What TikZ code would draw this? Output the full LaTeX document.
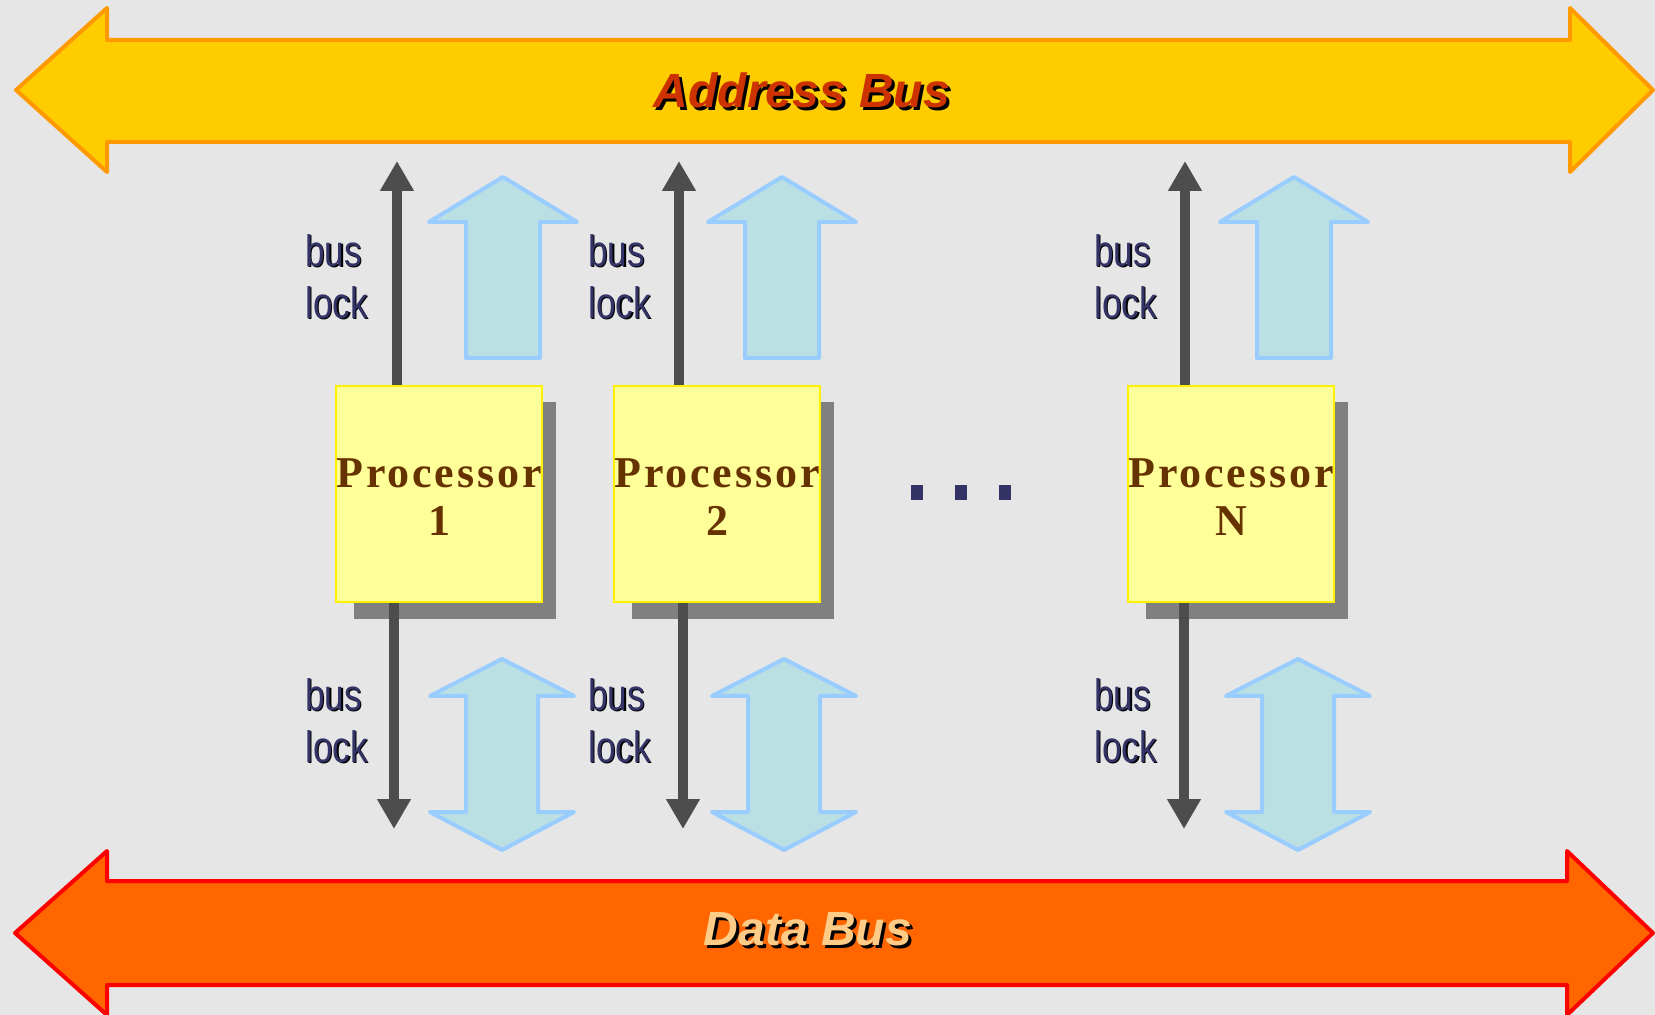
\documentclass[tikz,border=0pt]{standalone}
\usepackage{fontspec}
\setmainfont{Liberation Serif}
\newfontfamily\lockfont[FakeStretch=0.8]{Liberation Sans}
\newfontfamily\busfont{Liberation Sans}
\newfontfamily\procfont[LetterSpace=6.5]{Liberation Serif}
\usepackage{xcolor}
\usepackage{tikz}
\usetikzlibrary{arrows.meta, calc}
\definecolor{bggray}{HTML}{E6E6E6}
\definecolor{abusfill}{HTML}{FFCC00}
\definecolor{abusline}{HTML}{FF9900}
\definecolor{abustext}{HTML}{CC3300}
\definecolor{dbusfill}{HTML}{FF6600}
\definecolor{dbusline}{HTML}{FF0000}
\definecolor{dbustext}{HTML}{FFCC88}
\definecolor{procfill}{HTML}{FFFF99}
\definecolor{procbrown}{HTML}{663300}
\definecolor{procshadow}{HTML}{808080}
\definecolor{lockgray}{HTML}{4D4D4D}
\definecolor{lockblue}{HTML}{333366}
\definecolor{blkfill}{HTML}{BBE0E3}
\definecolor{blkline}{HTML}{99CCFF}
% text with a black drop shadow
\newcommand{\shtext}[3][1.5pt]{\rlap{\kern#1\raisebox{-#1}{\color{black}#3}}{\color{#2}#3}}
\newcommand{\lk}[1]{\shtext[0.7pt]{lockblue}{#1}}
\tikzset{
  bus/.style={line width=2pt, line join=round},
  abus/.style={bus, draw=abusline, fill=abusfill},
  dbus/.style={bus, draw=dbusline, fill=dbusfill},
  buslbl/.style={font=\busfont\bfseries\itshape\fontsize{24}{28}\selectfont,
                 inner sep=0pt},
  blk/.style={draw=blkline, fill=blkfill, line width=2pt, line join=round},
  proc/.style={rectangle, draw=yellow, fill=procfill, line width=1pt,
               minimum width=101pt, minimum height=108pt, inner sep=0pt,
               text height=40.6pt,
               font=\procfont\bfseries\fontsize{22}{24}\selectfont,
               align=center, text=procbrown},
  lockarrow/.style={-{Triangle[width=16pt,length=15pt]}, line width=5pt,
                    draw=lockgray},
  lbl/.style={anchor=west, align=left, inner sep=0pt,
              font=\lockfont\fontsize{22}{26}\selectfont}
}
\begin{document}
\begin{tikzpicture}[x=0.5pt, y=-0.5pt]
  \useasboundingbox (0,0) rectangle (1655,1015);
  \fill[bggray] (0,0) rectangle (1655,1015);
  % the two buses
  \draw[abus] (16,90) -- (107,8) -- (107,40) -- (1570,40) -- (1570,8) -- (1653,90)
    -- (1570,172) -- (1570,142) -- (107,142) -- (107,172) -- cycle;
  \node[buslbl] (abus) at (802,92) {\shtext{abustext}{Address Bus}};
  \draw[dbus] (15,933) -- (107,851) -- (107,881) -- (1567,881) -- (1567,851) -- (1653,933)
    -- (1567,1015) -- (1567,985) -- (107,985) -- (107,1015) -- cycle;
  \node[buslbl] (dbus) at (808,931) {\shtext{dbustext}{Data Bus}};
  % processors with their lock lines and bus arrows
  \foreach \i/\x/\nm/\ux/\dx/\bx/\cx/\lx in {1/338/1/397/394/503/502/305,
      2/616/2/679/683/782/784/588, 3/1130/N/1185/1184/1294/1298/1094} {
    \fill[procshadow] ({\x+16},402) rectangle ({\x+218},619);
    \node[proc] (p\i) at ({\x+101},494.5) {Processor\\\nm};
    \coordinate (ut\i) at (\ux,161);
    \coordinate (dt\i) at (\dx,829);
    \draw[lockarrow] (p\i.north -| ut\i) -- (ut\i);
    \draw[lockarrow] (p\i.south -| dt\i) -- (dt\i);
    \draw[blk] (\bx,177) -- ++(74,45) -- ++(-37,0) -- ++(0,136) -- ++(-74,0)
      -- ++(0,-136) -- ++(-37,0) -- cycle;
    \draw[blk] (\cx,659) -- ++(72,37) -- ++(-36,0) -- ++(0,116) -- ++(36,0)
      -- ++(-72,38) -- ++(-72,-38) -- ++(36,0) -- ++(0,-116) -- ++(-36,0) -- cycle;
    \node[lbl] (lu\i) at (\lx,277) {\lk{bus}\\\lk{lock}};
    \node[lbl] (ld\i) at (\lx,721) {\lk{bus}\\\lk{lock}};
  }
  % dots between processor 2 and N
  \foreach \d in {911, 955, 999}
    \fill[lockblue] (\d,485) rectangle ++(12,15);
\end{tikzpicture}
\end{document}
